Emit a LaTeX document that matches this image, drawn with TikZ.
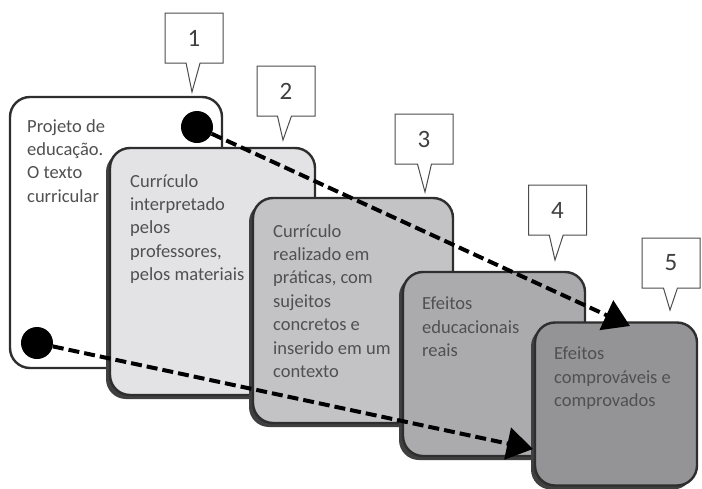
\documentclass[tikz,border=0pt]{standalone}
\usepackage{fontspec}
\setmainfont{Carlito}
\usetikzlibrary{arrows.meta,shapes.callouts,shadows}

\definecolor{textgray}{HTML}{505050}
\definecolor{edgegray}{HTML}{2E2E2E}
\definecolor{fillA}{HTML}{FFFFFF}
\definecolor{fillB}{HTML}{E3E3E5}
\definecolor{fillC}{HTML}{C3C3C5}
\definecolor{fillD}{HTML}{ABABAD}
\definecolor{fillE}{HTML}{949496}

\tikzset{
  etapa/.style={draw=edgegray, line width=2.4pt, rounded corners=20pt,
    inner sep=0pt, outer sep=0pt},
  sombra/.style={drop shadow={shadow xshift=-4pt, shadow yshift=-4pt,
    fill=black!75, opacity=1}},
  texto/.style={anchor=north west, inner sep=0pt, align=left, text=textgray,
    font=\fontsize{18.5}{23.4}\selectfont},
  balao/.style={rectangle callout, draw=black!70, line width=1pt, fill=white,
    minimum width=58pt, minimum height=50pt, callout pointer width=14pt,
    font=\fontsize{25}{25}\selectfont, text=black!75},
  ponto/.style={circle, fill=black, minimum size=32pt, inner sep=0pt},
  seta/.style={line width=4pt, dash pattern=on 11pt off 5pt,
    -{Triangle[length=26pt,width=32pt]}}
}

\begin{document}
\begin{tikzpicture}[x=1pt,y=-1pt]
  \useasboundingbox (0,0) rectangle (702,488);

  % stage 1
  \node[etapa, fill=fillA, minimum width=212pt, minimum height=271pt] (b1) at (116,232.5) {};
  \node[texto] (t1) at (27,119) {Projeto de\\educação.\\O texto\\curricular};
  \node[ponto] (d1) at (197,127) {};
  \node[ponto] (d2) at (37,343) {};

  % stage 2
  \node[etapa, sombra, fill=fillB, minimum width=205pt, minimum height=247pt] (b2) at (212.5,271.5) {};
  \node[texto] (t2) at (130,174) {Currículo\\interpretado\\pelos\\professores,\\pelos materiais};

  % stage 3
  \node[etapa, sombra, fill=fillC, minimum width=200pt, minimum height=225pt] (b3) at (353,310.5) {};
  \node[texto] (t3) at (273,224) {Currículo\\realizado em\\práticas, com\\sujeitos\\concretos e\\inserido em um\\contexto};

  % stage 4
  \node[etapa, sombra, fill=fillD, minimum width=182pt, minimum height=184pt] (b4) at (494,364) {};
  \node[texto] (t4) at (422,297) {Efeitos\\educacionais\\reais};

  % stage 5
  \node[etapa, sombra, fill=fillE, minimum width=162pt, minimum height=163pt] (b5) at (616,404) {};
  \node[texto] (t5) at (554,347) {Efeitos\\comprováveis e\\comprovados};

  % dashed arrows
  \coordinate (a1) at (630,326);
  \coordinate (a2) at (533,449);
  \draw[seta] (d1) -- (a1);
  \draw[seta] (d2) -- (a2);

  % callouts
  \node[balao, callout absolute pointer={(192,92)}] (c1) at (194,38) {1};
  \node[balao, callout absolute pointer={(283,140)}] (c2) at (286,91) {2};
  \node[balao, callout absolute pointer={(425,192)}] (c3) at (424,139) {3};
  \node[balao, callout absolute pointer={(555,260)}] (c4) at (557.5,210) {4};
  \node[balao, callout absolute pointer={(670,310)}] (c5) at (671,263) {5};
\end{tikzpicture}
\end{document}
